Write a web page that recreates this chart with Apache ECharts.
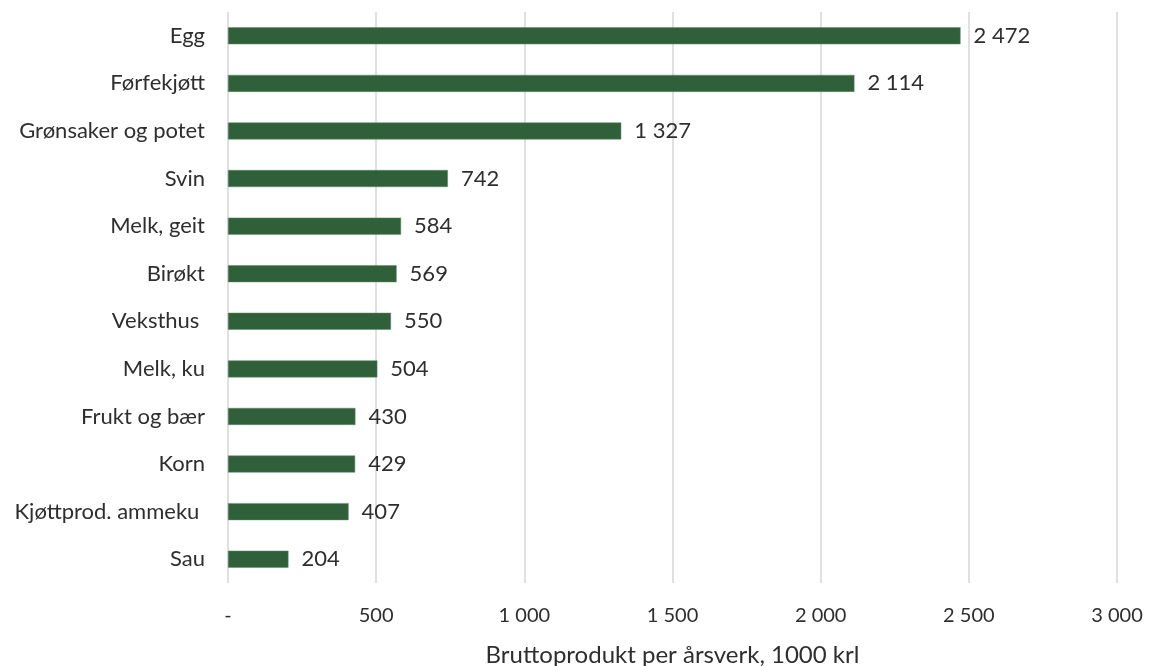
<!DOCTYPE html>
<html>
<head>
<meta charset="utf-8">
<script src="https://cdn.jsdelivr.net/npm/echarts@6/dist/echarts.min.js"></script>
<style>
html,body{margin:0;padding:0;background:#fff;}
#chart{width:1149px;height:666px;}
</style>
</head>
<body>
<div id="chart"></div>
<script>
const categories = ["Egg", "Førfekjøtt", "Grønsaker og potet", "Svin", "Melk, geit", "Birøkt", "Veksthus ", "Melk, ku", "Frukt og bær", "Korn", "Kjøttprod. ammeku ", "Sau"];
const values = [2472, 2114, 1327, 742, 584, 569, 550, 504, 430, 429, 407, 204];
const axisTitle = "Bruttoprodukt per årsverk, 1000 krl";

function fmt(v) {
  if (v === 0) return "-";
  return String(Math.round(v)).replace(/\B(?=(\d{3})+(?!\d))/g, " ");
}

const chart = echarts.init(document.getElementById('chart'), null, {renderer: 'canvas'});
const font = 'Lato, "Open Sans", sans-serif';
const txt = '#2e2e2e';
chart.setOption({
  animation: false,
  backgroundColor: '#ffffff',
  grid: {left: 228, right: 32, top: 12, bottom: 83, containLabel: false, outerBoundsMode: 'none'},
  xAxis: {
    type: 'value',
    min: 0, max: 3000, interval: 500,
    name: axisTitle,
    nameLocation: 'middle',
    nameGap: 60,
    nameTextStyle: {fontFamily: font, fontSize: 24, color: txt},
    axisLine: {show: false},
    axisTick: {show: false},
    axisLabel: {formatter: fmt, fontFamily: font, fontSize: 20, color: txt, margin: 23},
    splitLine: {show: true, lineStyle: {color: '#d6d6d6', width: 1.5}}
  },
  yAxis: {
    type: 'category',
    data: categories,
    inverse: true,
    axisLine: {show: false},
    axisTick: {show: false},
    axisLabel: {fontFamily: font, fontSize: 22, color: txt, margin: 23}
  },
  series: [{
    type: 'bar',
    data: values,
    barWidth: 17,
    itemStyle: {color: '#30603a', borderColor: '#5f8a67', borderWidth: 0.5},
    label: {
      show: true,
      position: 'right',
      distance: 13,
      formatter: p => fmt(p.value),
      fontFamily: font, fontSize: 22, color: txt
    }
  }]
});
</script>
</body>
</html>
